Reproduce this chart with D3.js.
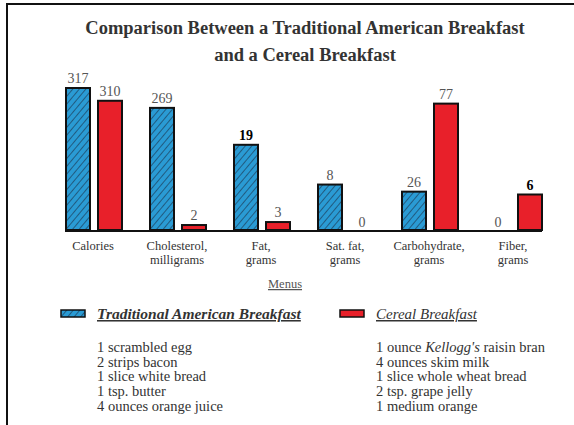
<!DOCTYPE html>
<html>
<head>
<meta charset="utf-8">
<script src="https://cdn.jsdelivr.net/npm/d3@7"></script>
<style>
  body { margin: 0; background: #fff; }
  svg text { font-family: "Liberation Serif", "DejaVu Serif", serif; }
</style>
</head>
<body>
<div id="chart"></div>
<script>
// chart data
const categories = ["Calories", "Cholesterol, milligrams", "Fat, grams", "Sat. fat, grams", "Carbohydrate, grams", "Fiber, grams"];
const categoryLines = [["Calories"], ["Cholesterol,", "milligrams"], ["Fat,", "grams"], ["Sat. fat,", "grams"], ["Carbohydrate,", "grams"], ["Fiber,", "grams"]];
const traditional = [317, 269, 19, 8, 26, 0];
const cereal = [310, 2, 3, 0, 77, 6];
// the bars in the picture are not drawn to one common scale,
// so these are the bar heights as read off it (0-100 of the tallest bar)
const traditionalHeight = [100, 86, 60, 32, 27, 0];
const cerealHeight = [91, 3.5, 5.6, 0, 89, 25];

const titleLines = ["Comparison Between a Traditional American Breakfast", "and a Cereal Breakfast"];
const traditionalMenu = ["1 scrambled egg", "2 strips bacon", "1 slice white bread", "1 tsp. butter", "4 ounces orange juice"];
const cerealMenu = [["1 ounce ", ["Kellogg's", true], " raisin bran"], "4 ounces skim milk", "1 slice whole wheat bread", "2 tsp. grape jelly", "1 medium orange"];

const width = 574, height = 425;
const blue = "#2a9bd4", red = "#e8202a";

const svg = d3.select("#chart").append("svg")
    .attr("width", width)
    .attr("height", height);

// hatch for the traditional bars
const pat = svg.append("defs").append("pattern")
    .attr("id", "hatch")
    .attr("patternUnits", "userSpaceOnUse")
    .attr("width", 5)
    .attr("height", 5)
    .attr("patternTransform", "rotate(40)");
pat.append("rect").attr("width", 5).attr("height", 5).attr("fill", blue);
pat.append("line").attr("x1", 0).attr("y1", 0).attr("x2", 0).attr("y2", 5)
    .attr("stroke", "#1d3f5c").attr("stroke-width", 1.4);

// frame (top and left edges only are visible)
svg.append("path")
    .attr("d", `M7,${height} V4 H${width}`)
    .attr("fill", "none")
    .attr("stroke", "#111")
    .attr("stroke-width", 2);

// title
svg.append("g").selectAll("text")
    .data(titleLines)
    .join("text")
    .attr("x", 305)
    .attr("y", (d, i) => 34 + i * 27)
    .attr("text-anchor", "middle")
    .attr("font-size", 18.5)
    .attr("font-weight", "bold")
    .attr("fill", "#333")
    .text(d => d);

// scales
const x = d3.scaleBand().domain(categories).range([62, 566]);
const xs = d3.scaleBand().domain(["traditional", "cereal"]).range([4, 60]).paddingInner(0.25);
const y = d3.scaleLinear().domain([0, 100]).range([230, 88]);

const rows = categories.map((c, i) => ({
    c, lines: categoryLines[i],
    bars: [
        {key: "traditional", v: traditional[i], h: traditionalHeight[i]},
        {key: "cereal", v: cereal[i], h: cerealHeight[i]}
    ]
}));

const groups = svg.append("g").selectAll("g")
    .data(rows)
    .join("g")
    .attr("transform", d => `translate(${x(d.c)},0)`);

groups.selectAll("rect")
    .data(d => d.bars.filter(b => b.h > 0))
    .join("rect")
    .attr("x", b => xs(b.key))
    .attr("y", b => y(b.h))
    .attr("width", xs.bandwidth())
    .attr("height", b => y(0) - y(b.h))
    .attr("fill", b => b.key == "traditional" ? "url(#hatch)" : red)
    .attr("stroke", "#111")
    .attr("stroke-width", 2);

// values on top of the bars
groups.selectAll("text.val")
    .data(d => d.bars)
    .join("text")
    .attr("class", "val")
    .attr("x", b => xs(b.key) + xs.bandwidth() / 2)
    .attr("y", b => y(b.h) - (b.h > 0 ? 5 : 3))
    .attr("text-anchor", "middle")
    .attr("font-size", 14)
    .attr("font-weight", b => (b.v == 19 || b.v == 6) ? "bold" : "normal")
    .attr("fill", b => (b.v == 19 || b.v == 6) ? "#000" : "#555")
    .text(b => b.v);

// baseline
svg.append("line")
    .attr("x1", 65).attr("x2", x(categories[5]) + xs("cereal") + xs.bandwidth())
    .attr("y1", y(0) + 1).attr("y2", y(0) + 1)
    .attr("stroke", "#111")
    .attr("stroke-width", 2);

// category labels
groups.append("text")
    .attr("x", 31)
    .attr("text-anchor", "middle")
    .attr("font-size", 12.5)
    .attr("fill", "#333")
    .selectAll("tspan")
    .data(d => d.lines)
    .join("tspan")
    .attr("x", 31)
    .attr("y", (d, i) => 250 + i * 14)
    .text(d => d);

svg.append("text")
    .attr("x", 285).attr("y", 288)
    .attr("text-anchor", "middle")
    .attr("font-size", 12.5)
    .attr("fill", "#555")
    .attr("text-decoration", "underline")
    .text("Menus");

// legend
function legend(x0, color, label, bold, items) {
    const g = svg.append("g");
    g.append("rect")
        .attr("x", x0).attr("y", 310)
        .attr("width", 24).attr("height", 7)
        .attr("fill", color)
        .attr("stroke", "#111")
        .attr("stroke-width", 1.5);
    g.append("text")
        .attr("x", x0 + 36).attr("y", 319)
        .attr("font-size", bold ? 15.5 : 15)
        .attr("font-style", "italic")
        .attr("font-weight", bold ? "bold" : "normal")
        .attr("fill", "#333")
        .attr("text-decoration", "underline")
        .text(label);
    const t = g.selectAll("text.item")
        .data(items)
        .join("text")
        .attr("class", "item")
        .attr("x", x0 + 36)
        .attr("y", (d, i) => 352 + i * 14.7)
        .attr("font-size", 14.5)
        .attr("fill", "#333");
    t.selectAll("tspan")
        .data(d => Array.isArray(d) ? d : [d])
        .join("tspan")
        .attr("font-style", p => Array.isArray(p) ? "italic" : null)
        .text(p => Array.isArray(p) ? p[0] : p);
}
legend(61, "url(#hatch)", "Traditional American Breakfast", true, traditionalMenu);
legend(340, red, "Cereal Breakfast", false, cerealMenu);
</script>
</body>
</html>
